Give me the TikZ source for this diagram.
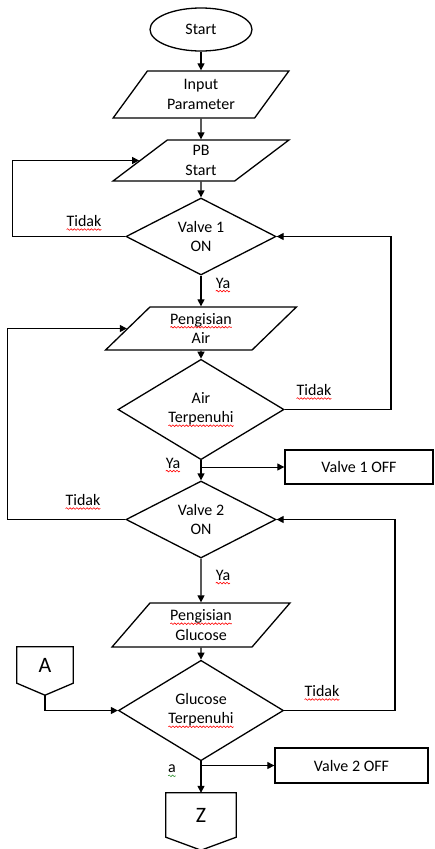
\documentclass[tikz,border=0pt]{standalone}
\usepackage{fontspec}
\setmainfont{Carlito}
\usetikzlibrary{shapes.geometric,arrows.meta,calc,decorations.pathmorphing}

\definecolor{proofgreen}{rgb}{0.25,0.6,0.25}

% a word with a wavy proofing underline in the given colour
\newcommand\wavy[2]{\tikz[baseline=(w.base)]{%
  \node[draw=none, fill=none, shape=rectangle, inner sep=0pt, outer sep=0pt,
        minimum width=0pt, minimum height=0pt, anchor=base] (w) {#2};
  \draw[#1, line width=0.6pt, decorate,
        decoration={snake, amplitude=0.8pt, segment length=3.4pt}]
    ([yshift=-3pt]w.base west) -- ([yshift=-3pt]w.base east);}}

\tikzset{
  txt/.style={font=\fontsize{16pt}{19.5pt}\selectfont, align=center},
  flow/.style={txt, draw, line width=1.3pt, inner sep=0pt},
  terminal/.style={flow, ellipse, minimum width=102pt, minimum height=43pt},
  io/.style={flow, trapezium, trapezium left angle=#1, trapezium right angle=180-#1,
             trapezium stretches=true},
  decision/.style={flow, diamond},
  process/.style={flow, rectangle},
  label/.style={txt, inner sep=0pt},
  link/.style={line width=1.3pt},
  arr/.style={link, -{Triangle[length=7pt,width=7pt]}},
  branch/.style={line width=1pt, -{Triangle[length=7pt,width=7pt]}},
  offpage/.style={txt, font=\fontsize{22pt}{24pt}\selectfont, inner sep=0pt,
                  minimum width=#1, rectangle},
}

\begin{document}
\begin{tikzpicture}[x=1pt, y=-1pt]
\useasboundingbox (0,0) rectangle (435,849);

% main column
\node[terminal] (start) at (201,29.5) {Start};
\node[io=54, minimum width=176pt, minimum height=47pt] (inp) at (201,94.5) {Input\\Parameter};
\node[io=50, minimum width=176pt, minimum height=41pt] (pb) at (201,160.5) {PB\\Start};
\node[decision, minimum width=150pt, minimum height=73pt] (v1) at (201,236.5) {Valve 1\\ON};
\node[io=48.5, minimum width=191pt, minimum height=43pt] (pa) at (201,328.5) {\wavy{red}{Pengisian}\\Air};
\node[decision, minimum width=166pt, minimum height=71pt] (at) at (201,409.5) {Air\\\wavy{red}{Terpenuhi}};
\node[decision, minimum width=150pt, minimum height=73pt] (v2) at (201,519.5) {Valve 2\\ON};
\node[io=53, minimum width=178pt, minimum height=44pt] (pg) at (201,625) {\wavy{red}{Pengisian}\\Glucose};
\node[decision, minimum width=165pt, minimum height=71pt] (gt) at (201,710.5) {Glucose\\\wavy{red}{Terpenuhi}};

% side actions
\node[process, minimum width=148pt, minimum height=34pt] (v1off) at (359,467) {Valve 1 OFF};
\node[process, minimum width=153pt, minimum height=35pt] (v2off) at (351.5,765.5) {Valve 2 OFF};

% off-page connectors
\node[offpage=56pt, minimum height=36pt] (conA) at (45,665) {A};
\draw[link] (conA.north west) -- (conA.north east) -- (conA.south east)
  -- ($(conA.south)+(0,12)$) coordinate (conAtip) -- (conA.south west) -- cycle;
\node[offpage=70pt, minimum height=44pt] (conZ) at (201,815) {Z};
\draw[link] (conZ.north west) -- (conZ.north east) -- (conZ.south east)
  -- ($(conZ.south)+(0,13)$) -- (conZ.south west) -- cycle;

% loop columns
\coordinate (l1) at (12.7,0);
\coordinate (l2) at (7.5,0);
\coordinate (r1) at (391,0);
\coordinate (r2) at (395,0);

% connectors
\draw[arr] (start) -- (inp);
\draw[arr] (inp) -- (pb);
\draw[arr] (pb) -- (v1);
\draw[arr] (v1) -- (pa);
\draw[arr] (pa) -- (at);
\draw[arr] (at) -- (v2);
\draw[arr] (v2) -- (pg);
\draw[arr] (pg) -- (gt);
\draw[arr] (gt) -- (conZ);

\draw[arr] (v1.west) -- (v1.west -| l1) |- (pb.west);
\draw[arr] (at.east) -- (at.east -| r1) |- (v1.east);
\draw[arr] (v2.west) -- (v2.west -| l2) |- (pa.west);
\draw[arr] (gt.east) -- (gt.east -| r2) |- (v2.east);
\draw[arr] (conAtip) |- (gt.west);

\coordinate (b1) at (at.south |- v1off.west);
\draw[branch] (b1) -- (v1off.west);
\coordinate (b2) at (gt.south |- v2off.west);
\draw[branch] (b2) -- (v2off.west);

% branch labels
\node[label] (t1) at (84,223) {\wavy{red}{Tidak}};
\node[label] (y1) at (223,285) {\wavy{red}{Ya}};
\node[label] (t2) at (314,392) {\wavy{red}{Tidak}};
\node[label] (y2) at (173,465) {\wavy{red}{Ya}};
\node[label] (t3) at (83,502) {\wavy{red}{Tidak}};
\node[label] (y3) at (223,577) {\wavy{red}{Ya}};
\node[label] (t4) at (322,693) {\wavy{red}{Tidak}};
\node[label] (y4) at (172,771) {\wavy{proofgreen}{a}};
\end{tikzpicture}
\end{document}
